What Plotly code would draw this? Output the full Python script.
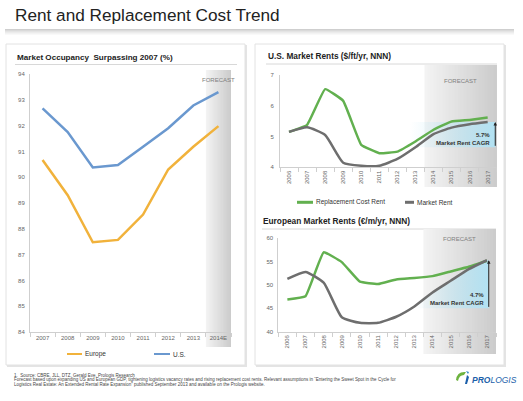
import plotly.graph_objects as go

W, H = 523, 401
FONT = "Liberation Sans, Arial, sans-serif"

# ---------------- data ----------------
occ_years = ["2007", "2008", "2009", "2010", "2011", "2012", "2013", "2014E"]
occ_europe = [90.67, 89.3, 87.48, 87.57, 88.55, 90.3, 91.18, 91.98]
occ_us = [92.67, 91.75, 90.38, 90.47, 91.18, 91.9, 92.78, 93.3]

rent_years = [2006, 2007, 2008, 2009, 2010, 2011, 2012, 2013, 2014, 2015, 2016, 2017]
us_replacement = [5.15, 5.38, 6.54, 6.16, 4.73, 4.46, 4.51, 4.84, 5.22, 5.49, 5.54, 5.62]
us_market = [5.15, 5.30, 5.05, 4.15, 4.05, 4.05, 4.27, 4.65, 5.08, 5.29, 5.40, 5.47]
eu_replacement = [46.9, 47.6, 57.0, 54.9, 50.7, 50.2, 51.2, 51.5, 51.9, 52.9, 53.9, 55.2]
eu_market = [51.3, 52.8, 50.5, 43.1, 41.9, 41.9, 43.2, 45.4, 48.4, 50.9, 53.4, 55.3]

forecast_start = 2014
us_cagr_text = "5.7%"
eu_cagr_text = "4.7%"
us_cagr_floor = 4.65
eu_cagr_floor = 45.0

footnotes = [
    "1.  Source: CBRE, JLL, DTZ, Gerald Eve, Prologis Research",
    "Forecast based upon expanding US and European GDP, tightening logistics vacancy rates and rising replacement cost rents. Relevant assumptions in \u201cEntering the Sweet Spot in the Cycle for",
    "Logistics Real Estate: An Extended Rental Rate Expansion\u201d published September 2013 and available on the Prologis website.",
]

# ---------------- colours ----------------
C_EU = "#F1B23B"
C_US = "#6A98CF"
C_GREEN = "#62B04F"
C_GRAY = "#6E6E6E"
C_TICK = "#666666"


def px(x):
    return x / W


def py(y):
    return 1 - y / H


shapes = []
annotations = []

# header shadow band
for i, c in enumerate(["#cfcfcf", "#dadada", "#e4e4e4", "#ececec", "#f3f3f3", "#f9f9f9"]):
    shapes.append(dict(type="rect", xref="paper", yref="paper", x0=px(5), x1=px(514),
                       y0=py(29 + i + 1), y1=py(29 + i), fillcolor=c, line=dict(width=0), layer="below"))

# cards
for x0, x1 in [(6, 245), (255, 504)]:
    shapes.append(dict(type="rect", xref="paper", yref="paper", x0=px(x0 + 1), x1=px(x1 + 2),
                       y0=py(367), y1=py(45), fillcolor="#e4e4e4", line=dict(width=0), layer="below"))
    shapes.append(dict(type="rect", xref="paper", yref="paper", x0=px(x0), x1=px(x1),
                       y0=py(365), y1=py(44), fillcolor="white", line=dict(color="#e2e2e2", width=1),
                       layer="below"))

# title separators
for x0, x1, y in [(15, 237, 64.5), (266, 497, 64), (262, 496, 229)]:
    shapes.append(dict(type="line", xref="paper", yref="paper", x0=px(x0), x1=px(x1), y0=py(y), y1=py(y),
                       line=dict(color="#d8d8d8", width=1), layer="below"))


def forecast_band(xref, x0, x1, ytop, ybot, n=24, c0=(243, 243, 243), c1=(204, 204, 204)):
    step = (x1 - x0) / n
    for i in range(n):
        t = i / (n - 1)
        c = tuple(int(round(c0[k] + (c1[k] - c0[k]) * t)) for k in range(3))
        shapes.append(dict(type="rect", xref=xref, yref="paper", x0=x0 + i * step, x1=x1,
                           y0=py(ybot), y1=py(ytop), fillcolor="rgb(%d,%d,%d)" % c, line=dict(width=0),
                           layer="below"))


occ_idx = list(range(len(occ_years)))
forecast_band("x", len(occ_years) - 1.5, len(occ_years) - 0.5, 70, 347)
forecast_band("x2", forecast_start - 0.5, rent_years[-1] + 0.5, 65, 187)
forecast_band("x3", forecast_start - 0.5, rent_years[-1] + 0.5, 229, 354)

annotations += [
    dict(x=len(occ_years) - 1, y=py(75), xref="x", yref="paper", text="FORECAST", showarrow=False,
         font=dict(size=6, color="#808080", family=FONT)),
    dict(x=(forecast_start + rent_years[-1]) / 2, y=py(75.7), xref="x2", yref="paper", text="FORECAST",
         showarrow=False, font=dict(size=6, color="#808080", family=FONT)),
    dict(x=(forecast_start + rent_years[-1]) / 2, y=py(239), xref="x3", yref="paper", text="FORECAST",
         showarrow=False, font=dict(size=6, color="#808080", family=FONT)),
]

fig = go.Figure()

# ---- left chart ----
fig.add_trace(go.Scatter(x=occ_idx, y=occ_us, mode="lines", line=dict(color=C_US, width=2.5),
                         xaxis="x", yaxis="y", name="U.S."))
fig.add_trace(go.Scatter(x=occ_idx, y=occ_europe, mode="lines", line=dict(color=C_EU, width=2.5),
                         xaxis="x", yaxis="y", name="Europe"))

# ---- CAGR gradient boxes ----
grad = [[0, "rgba(190,232,246,0)"], [1, "rgba(178,226,243,1)"]]
bx0, bx1 = rent_years[-1] - 4.3, rent_years[-1] + 0.42
fig.add_trace(go.Scatter(x=[bx0, bx1, bx1, bx0, bx0],
                         y=[us_cagr_floor, us_cagr_floor, us_market[-1], us_market[-1], us_cagr_floor],
                         mode="lines", fill="toself", line=dict(width=0),
                         fillgradient=dict(type="horizontal", colorscale=grad),
                         xaxis="x2", yaxis="y2", hoverinfo="skip"))
sel = [i for i, yr in enumerate(rent_years) if yr >= forecast_start - 1]
ex = [rent_years[i] for i in sel] + [rent_years[-1] + 0.1, rent_years[-1] + 0.1, rent_years[sel[0]]]
ey = [eu_market[i] for i in sel] + [eu_market[-1], eu_cagr_floor, eu_cagr_floor]
fig.add_trace(go.Scatter(x=ex, y=ey, mode="lines", fill="toself", line=dict(width=0),
                         fillgradient=dict(type="horizontal", colorscale=grad),
                         xaxis="x3", yaxis="y3", hoverinfo="skip"))

# ---- right charts ----
fig.add_trace(go.Scatter(x=rent_years, y=us_replacement, mode="lines",
                         line=dict(color=C_GREEN, width=2.5, shape="spline", smoothing=0.3),
                         xaxis="x2", yaxis="y2", name="Replacement Cost Rent"))
fig.add_trace(go.Scatter(x=rent_years, y=us_market, mode="lines",
                         line=dict(color=C_GRAY, width=2.5, shape="spline", smoothing=0.5),
                         xaxis="x2", yaxis="y2", name="Market Rent"))
fig.add_trace(go.Scatter(x=rent_years, y=eu_replacement, mode="lines",
                         line=dict(color=C_GREEN, width=2.5, shape="spline", smoothing=0.3),
                         xaxis="x3", yaxis="y3", name="Replacement Cost Rent"))
fig.add_trace(go.Scatter(x=rent_years, y=eu_market, mode="lines",
                         line=dict(color=C_GRAY, width=2.5, shape="spline", smoothing=0.5),
                         xaxis="x3", yaxis="y3", name="Market Rent"))

# arrows
annotations += [
    dict(x=rent_years[-1] + 0.42, y=us_market[-1], xref="x2", yref="y2", ax=rent_years[-1] + 0.42,
         ay=us_cagr_floor, axref="x2", ayref="y2", text="", showarrow=True, arrowhead=2, arrowsize=0.7,
         arrowwidth=1, arrowcolor="#222222", standoff=0, startstandoff=0),
    dict(x=rent_years[-1] + 0.1, y=eu_market[-1], xref="x3", yref="y3", ax=rent_years[-1] + 0.1,
         ay=eu_cagr_floor, axref="x3", ayref="y3", text="", showarrow=True, arrowhead=2, arrowsize=0.7,
         arrowwidth=1, arrowcolor="#222222", standoff=0, startstandoff=0),
    dict(x=px(492), y=py(139), xref="paper", yref="paper", xanchor="right", yanchor="middle", align="right",
         text="<b>%s<br>Market Rent CAGR</b>" % us_cagr_text, showarrow=False,
         font=dict(size=6, color="#333333", family=FONT)),
    dict(x=px(486), y=py(299), xref="paper", yref="paper", xanchor="right", yanchor="middle", align="right",
         text="<b>%s<br>Market Rent CAGR</b>" % eu_cagr_text, showarrow=False,
         font=dict(size=6, color="#333333", family=FONT)),
]

# titles
annotations += [
    dict(x=px(13), y=py(15), xref="paper", yref="paper", xanchor="left", yanchor="middle",
         text="Rent and Replacement Cost Trend", showarrow=False,
         font=dict(size=17.2, color="#222222", family=FONT)),
    dict(x=px(14.5), y=py(57), xref="paper", yref="paper", xanchor="left", yanchor="middle",
         text="<b>Market Occupancy  Surpassing 2007 (%)</b>", showarrow=False,
         font=dict(size=8.1, color="#222222", family=FONT)),
    dict(x=px(265.5), y=py(56.5), xref="paper", yref="paper", xanchor="left", yanchor="middle",
         text="<b>U.S. Market Rents ($/ft/yr, NNN)</b>", showarrow=False,
         font=dict(size=8.3, color="#222222", family=FONT)),
    dict(x=px(260.5), y=py(221.5), xref="paper", yref="paper", xanchor="left", yanchor="middle",
         text="<b>European Market Rents (\u20ac/m/yr, NNN)</b>", showarrow=False,
         font=dict(size=8.3, color="#222222", family=FONT)),
]

# legends (drawn)
def legend_item(x0, x1, y, color, label, width=2.5):
    shapes.append(dict(type="line", xref="paper", yref="paper", x0=px(x0), x1=px(x1), y0=py(y), y1=py(y),
                       line=dict(color=color, width=width)))
    annotations.append(dict(x=px(x1 + 1), y=py(y), xref="paper", yref="paper", xanchor="left",
                            yanchor="middle", text=label, showarrow=False,
                            font=dict(size=6.5, color="#333333", family=FONT)))


legend_item(67, 82, 354, C_EU, "Europe", 2)
legend_item(154, 170, 354, C_US, "U.S.", 2)
legend_item(297, 313, 202.3, C_GREEN, "Replacement Cost Rent", 3)
legend_item(405, 414, 202.3, C_GRAY, "Market Rent", 3)

# footnotes
for i, t in enumerate(footnotes):
    annotations.append(dict(x=px(12), y=py(375 + i * 4.5), xref="paper", yref="paper", xanchor="left",
                            yanchor="middle", text=t, showarrow=False,
                            font=dict(size=4.5, color="#444444", family=FONT)))

# Prologis logo
shapes += [
    dict(type="path", xref="paper", yref="paper",
         path="M %f,%f Q %f,%f %f,%f L %f,%f Q %f,%f %f,%f Z" % (
             px(456), py(380), px(457), py(371), px(466), py(372), px(464), py(375),
             px(459), py(375), px(458), py(381)),
         fillcolor="#6DB33F", line=dict(width=0)),
    dict(type="path", xref="paper", yref="paper",
         path="M %f,%f L %f,%f L %f,%f L %f,%f Z" % (
             px(467), py(375), px(469), py(377), px(467), py(384), px(465), py(384)),
         fillcolor="#1B5FAA", line=dict(width=0)),
    dict(type="path", xref="paper", yref="paper",
         path="M %f,%f L %f,%f L %f,%f Z" % (
             px(466), py(371), px(469), py(372), px(468), py(374)),
         fillcolor="#2E86C8", line=dict(width=0)),
]
annotations.append(dict(x=px(470), y=py(380), xref="paper", yref="paper", xanchor="left", yanchor="middle",
                        text="<b><i>PRO</i></b><i>LOGIS</i>", showarrow=False,
                        font=dict(size=8.5, color="#1B5FAA", family=FONT)))

axis_common = dict(showgrid=False, zeroline=False, showline=True, linecolor="#cfcfcf", linewidth=1,
                   ticks="", tickfont=dict(size=6, color=C_TICK, family=FONT), automargin=False)

fig.update_layout(
    width=W, height=H, margin=dict(l=0, r=0, t=0, b=0),
    paper_bgcolor="white", plot_bgcolor="rgba(0,0,0,0)",
    showlegend=False, font=dict(family=FONT),
    shapes=shapes, annotations=annotations,
    xaxis=dict(axis_common, domain=[px(30), px(231)], range=[-0.5, len(occ_years) - 0.5],
               tickmode="array", tickvals=occ_idx, ticktext=occ_years, anchor="y",
               minor=dict(tickmode="linear", tick0=-0.5, dtick=1, ticks="outside", ticklen=4,
                          tickcolor="#cfcfcf", showgrid=False)),
    yaxis=dict(axis_common, domain=[py(332), py(74)], range=[84, 94], dtick=1, anchor="x",
               ticklabelstandoff=3),
    xaxis2=dict(axis_common, domain=[px(280), px(496.7)], range=[rent_years[0] - 0.5, rent_years[-1] + 0.5],
                tickmode="array", tickvals=rent_years, ticktext=[str(y) for y in rent_years], tickangle=-90,
                anchor="y2",
                minor=dict(tickmode="linear", tick0=rent_years[0] - 0.5, dtick=1, ticks="outside", ticklen=4,
                           tickcolor="#cfcfcf", showgrid=False)),
    yaxis2=dict(axis_common, domain=[py(167.3), py(75)], range=[4, 7], dtick=1, anchor="x2",
                ticklabelstandoff=4),
    xaxis3=dict(axis_common, domain=[px(278.3), px(496)], range=[rent_years[0] - 0.5, rent_years[-1] + 0.5],
                tickmode="array", tickvals=rent_years, ticktext=[str(y) for y in rent_years], tickangle=-90,
                anchor="y3",
                minor=dict(tickmode="linear", tick0=rent_years[0] - 0.5, dtick=1, ticks="outside", ticklen=4,
                           tickcolor="#cfcfcf", showgrid=False)),
    yaxis3=dict(axis_common, domain=[py(331.7), py(238.3)], range=[40, 60], dtick=5, anchor="x3",
                ticklabelstandoff=3),
)

fig.write_html("out.html", config={"displayModeBar": False},
               post_script="document.body.style.margin='0';document.body.style.padding='0';")
